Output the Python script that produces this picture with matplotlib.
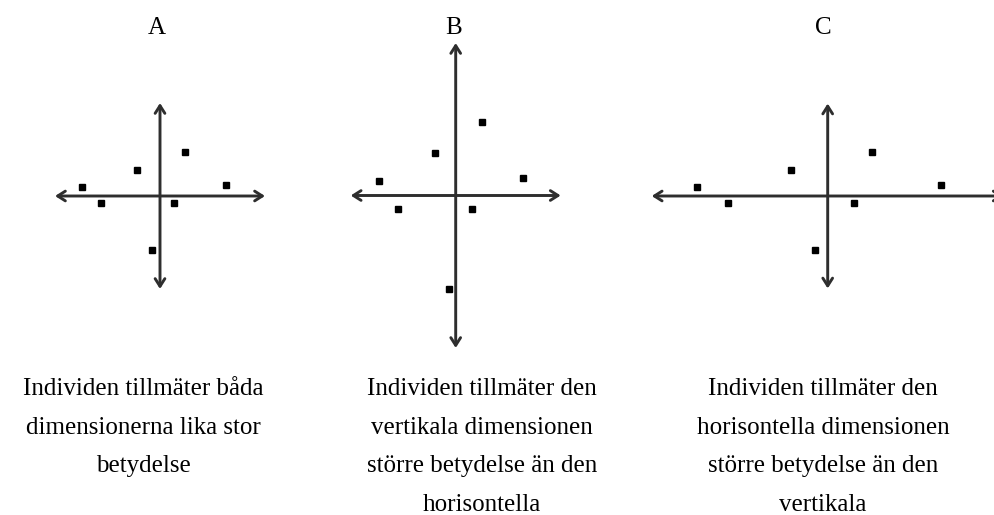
import matplotlib
matplotlib.use("Agg")
import matplotlib.pyplot as plt

# panel labels and captions
panel_labels = ["A", "B", "C"]
captions = [
    ["Individen tillmäter båda", "dimensionerna lika stor", "betydelse"],
    ["Individen tillmäter den", "vertikala dimensionen", "större betydelse än den", "horisontella"],
    ["Individen tillmäter den", "horisontella dimensionen", "större betydelse än den", "vertikala"],
]

# dot positions relative to the origin of each panel (y up)
dots_a_x = [-77.7, -59.3, -22.7, 25.0, 66.0, 14.3, -8.3]
dots_a_y = [9.3, -7.3, 26.0, 44.3, 11.0, -7.3, -54.0]
dots_b_x = [-76.4, -57.7, -21.0, 26.3, 67.3, 16.0, -7.0]
dots_b_y = [14.3, -13.7, 42.7, 74.0, 17.3, -13.7, -93.0]
dots_c_x = [-130.4, -99.4, -36.7, 44.0, 113.3, 26.3, -13.0]
dots_c_y = [9.3, -7.3, 26.0, 44.3, 11.0, -7.3, -54.0]

# half length of the horizontal / vertical axis arrows
axis_half_x = [105, 105, 176]
axis_half_y = [93, 152.5, 92.5]

# layout (pixels)
W, H = 994, 515
origins = [(160, 196), (455.7, 195.5), (827.7, 196)]
title_x = [157, 454, 823]
caption_x = [143, 482, 823]
title_base = 34
caption_base = 395
line_step = 38.7

plt.rcParams["font.family"] = ["Liberation Serif", "DejaVu Serif"]

fig = plt.figure(figsize=(W / 100, H / 100), dpi=100)
fig.patch.set_facecolor("white")

dots = [(dots_a_x, dots_a_y), (dots_b_x, dots_b_y), (dots_c_x, dots_c_y)]
box_w, box_h = 400, 360

for i, (ox, oy) in enumerate(origins):
    ax = fig.add_axes([(ox - box_w / 2) / W, (H - oy - box_h / 2) / H, box_w / W, box_h / H])
    ax.set_xlim(-box_w / 2, box_w / 2)
    ax.set_ylim(-box_h / 2, box_h / 2)
    ax.axis("off")

    arrow = dict(arrowstyle="<->,head_length=0.55,head_width=0.35", lw=2.1,
                 color="#2e2e2e", shrinkA=0, shrinkB=0)
    ax.annotate("", xy=(axis_half_x[i], 0), xytext=(-axis_half_x[i], 0),
                arrowprops=arrow, annotation_clip=False)
    ax.annotate("", xy=(0, axis_half_y[i]), xytext=(0, -axis_half_y[i]),
                arrowprops=arrow, annotation_clip=False)

    xs, ys = dots[i]
    ax.plot(xs, ys, "s", ms=3.8, color="black", clip_on=False)

    fig.text(title_x[i] / W, 1 - title_base / H, panel_labels[i],
             ha="center", va="baseline", fontsize=18)
    for j, line in enumerate(captions[i]):
        fig.text(caption_x[i] / W, 1 - (caption_base + j * line_step) / H, line,
                 ha="center", va="baseline", fontsize=18)

fig.savefig("out.png", dpi=100, facecolor="white")
